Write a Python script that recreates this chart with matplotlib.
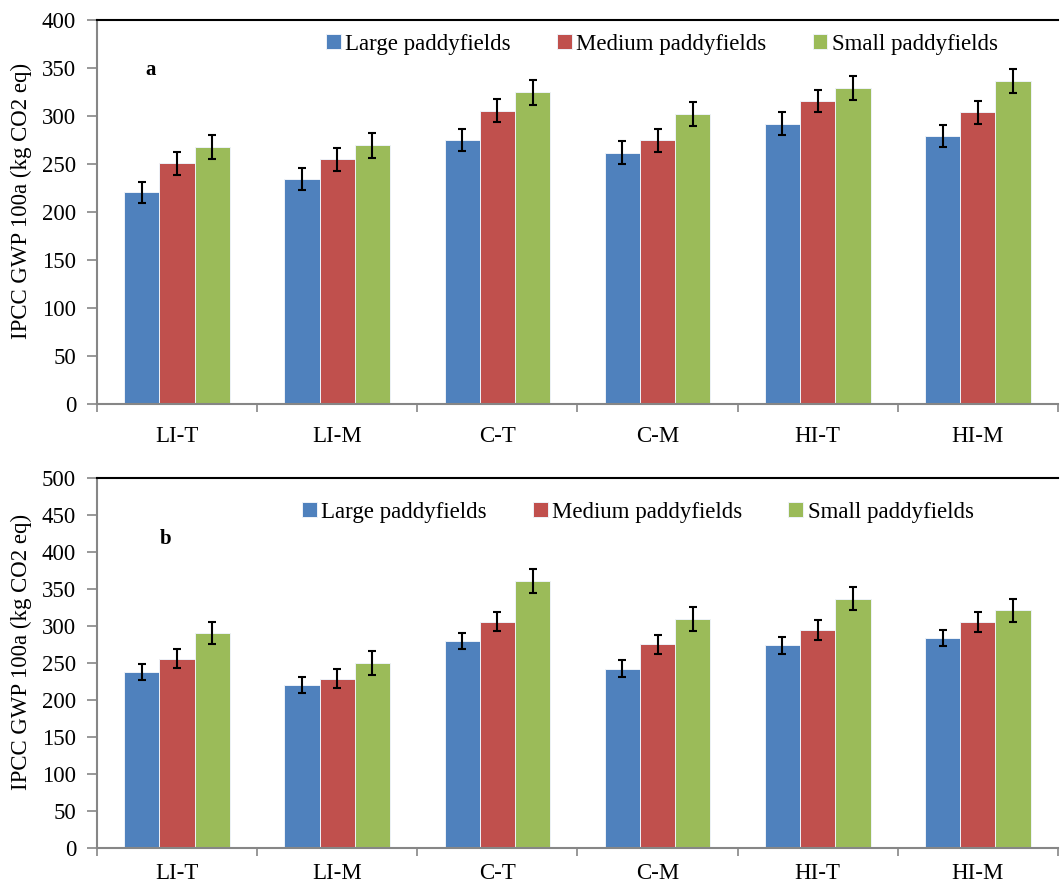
import matplotlib.pyplot as plt
import numpy as np

plt.rcParams['font.family'] = ['Liberation Serif', 'DejaVu Serif']

systems = ['LI-T', 'LI-M', 'C-T', 'C-M', 'HI-T', 'HI-M']
series = ['Large paddyfields', 'Medium paddyfields', 'Small paddyfields']
colors = ['#4F81BD', '#C0504D', '#9BBB59']

# panel a
large_a = [221, 235, 275, 262, 292, 279]
medium_a = [251, 255, 306, 275, 316, 304]
small_a = [268, 270, 325, 302, 329, 337]
large_a_err = [11, 11.5, 11.5, 12, 12, 11.5]
medium_a_err = [12, 12, 12, 12, 11.5, 12]
small_a_err = [12.5, 13, 13, 12.5, 12.5, 12.5]

# panel b
large_b = [238, 220, 280, 242, 274, 284]
medium_b = [256, 229, 306, 275, 295, 305]
small_b = [290, 250, 361, 309, 337, 321]
large_b_err = [10.5, 11, 11, 11.5, 11.5, 11]
medium_b_err = [12.5, 12.5, 13, 13, 13.5, 13.5]
small_b_err = [15, 16, 16, 16, 16, 16]


def draw_panel(ax, values, errors, ymax, tag, legend_xy, xpad):
    x = np.arange(len(systems))
    w = 0.22
    for i, (vals, errs) in enumerate(zip(values, errors)):
        ax.bar(x + (i - 1) * w, vals, w, color=colors[i], edgecolor='#eef2f8',
               linewidth=0.7, label=series[i], zorder=2)
        ax.errorbar(x + (i - 1) * w, vals, yerr=errs, fmt='none', ecolor='black',
                    elinewidth=1.5, capsize=3.2, capthick=1.5, zorder=3)

    ax.set_xlim(-0.5, len(systems) - 0.5)
    ax.set_ylim(0, ymax)
    ax.set_yticks(np.arange(0, ymax + 1, 50))
    ax.set_xticks(x)
    ax.set_xticklabels(systems)
    ax.set_xticks(np.arange(-0.5, len(systems)), minor=True)
    ax.tick_params(axis='x', which='major', length=0, pad=xpad, labelsize=16.5)
    ax.tick_params(axis='x', which='minor', length=6, color='#868686', width=1.2)
    ax.tick_params(axis='y', length=7, color='#868686', width=1.2, pad=8, labelsize=16.5)

    for side in ['left', 'bottom']:
        ax.spines[side].set_color('#868686')
        ax.spines[side].set_linewidth(1.5)
    ax.spines['top'].set_color('black')
    ax.spines['top'].set_linewidth(1.5)
    ax.spines['right'].set_visible(False)

    ax.set_ylabel('IPCC GWP 100a (kg CO2 eq)', fontsize=16.5)
    ax.yaxis.set_label_coords(-0.068, 0.53)
    ax.text(tag[1], tag[2], tag[0], transform=ax.transAxes, fontsize=15,
            fontweight='bold', va='center', ha='left')

    ax.legend(loc='center', bbox_to_anchor=legend_xy, ncol=3, frameon=False,
              fontsize=16.5, handlelength=0.65, handleheight=0.65,
              handletextpad=0.2, columnspacing=2.0)


fig = plt.figure(figsize=(10.6, 8.86), dpi=100)
ax_a = fig.add_axes([0.0915, 0.544, 0.9065, 0.433])
ax_b = fig.add_axes([0.0915, 0.0429, 0.9065, 0.4176])

draw_panel(ax_a, [large_a, medium_a, small_a],
           [large_a_err, medium_a_err, small_a_err], 400,
           ('a', 0.05, 0.87), (0.588, 0.9375), 16)
draw_panel(ax_b, [large_b, medium_b, small_b],
           [large_b_err, medium_b_err, small_b_err], 500,
           ('b', 0.065, 0.835), (0.563, 0.908), 11)

fig.savefig('out.png', dpi=100)
